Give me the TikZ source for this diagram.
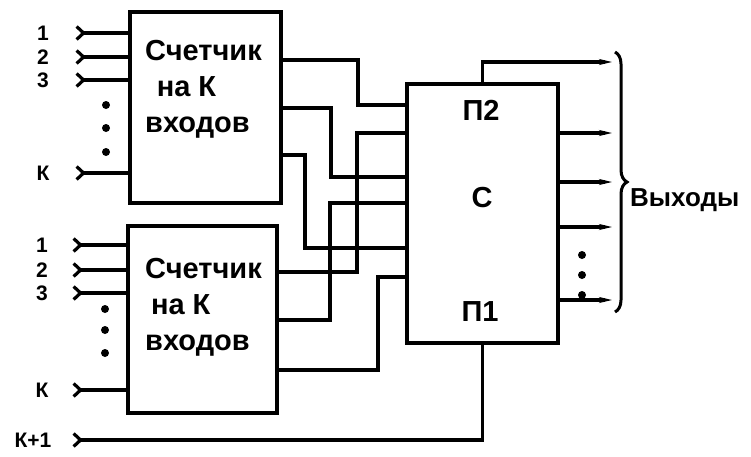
\documentclass[tikz,border=0pt]{standalone}
\usepackage{fontspec}
\setmainfont{Liberation Sans}
\usetikzlibrary{arrows.meta,decorations.pathreplacing}

\tikzset{
  wire/.style={line width=3.2pt},
  blk/.style={draw, line width=3.2pt, rectangle, inner sep=0pt},
  txt/.style={font=\bfseries\fontsize{29}{36}\selectfont, align=left, inner sep=0pt},
  num/.style={font=\bfseries\fontsize{21}{21}\selectfont, inner sep=0pt},
  inp/.style={wire, {Straight Barb[reversed,length=7pt,width=13pt]}-},
  outp/.style={wire, -{Stealth[length=13pt,width=6pt]}},
  dot/.style={circle, fill, inner sep=0pt, minimum size=8pt},
}

\begin{document}
\begin{tikzpicture}[x=1pt,y=-1pt]
\useasboundingbox (0,0) rectangle (751,456);

% Counters
\node[blk, minimum width=151pt, minimum height=191pt] (cnt1) at (205.5,107.5) {};
\node[txt, anchor=west] (t1) at (145,89) {Счетчик\\\hspace*{0.4em}на К\\входов};
\node[blk, minimum width=149pt, minimum height=187pt] (cnt2) at (202.5,319.5) {};
\node[txt, anchor=west] (t2) at (145,307) {Счетчик\\\hspace*{0.2em}на К\\входов};

% Adder
\node[blk, minimum width=151pt, minimum height=259pt] (sum) at (482.5,213.5) {};
\node[txt] (p2) at (481,110) {П2};
\node[txt] (c) at (482,198) {С};
\node[txt] (p1) at (480,312) {П1};

% Inputs of the counters
\foreach \y/\s [count=\i] in {33/1,57/2,80/3,173/К} {
  \node[num] (la\i) at (43,\y) {\s};
  \coordinate (ia\i) at (75,\y);
  \draw[inp] (ia\i) -- (cnt1.west |- ia\i);
}
\foreach \y/\s [count=\i] in {245/1,270/2,293/3,390/К} {
  \node[num] (lb\i) at (42,\y) {\s};
  \coordinate (ib\i) at (72,\y);
  \draw[inp] (ib\i) -- (cnt2.west |- ib\i);
}
\foreach \y [count=\i] in {105,128,152} \node[dot] (da\i) at (106,\y) {};
\foreach \y [count=\i] in {309,330,353} \node[dot] (db\i) at (105,\y) {};

% Carry input
\node[num] (lk) at (33,440) {К+1};
\coordinate (ik) at (72,440);
\draw[inp] (ik) -| (sum.south);

% Counters to adder
\foreach \a/\b/\c in {60/358/105,108/331/177,155/305/248}
  \draw[wire] (cnt1.east |- 0,\a) -| (\b,\c) -- (sum.west |- 0,\c);
\foreach \a/\b/\c in {272/357/133,320/330/203,370/378/277}
  \draw[wire] (cnt2.east |- 0,\a) -| (\b,\c) -- (sum.west |- 0,\c);

% Outputs
\coordinate (q0) at (612,62);
\draw[outp] (sum.north) |- (q0);
\foreach \y [count=\i] in {133,182,227,300} {
  \coordinate (q\i) at (612,\y);
  \draw[outp] (sum.east |- q\i) -- (q\i);
}
\foreach \y [count=\i] in {255,275,295} \node[dot] (dq\i) at (582,\y) {};

\coordinate (br1) at (615,52);
\coordinate (br2) at (615,312);
\draw[line width=3pt, decorate, decoration={brace, amplitude=12pt}] (br1) -- (br2);
\node[txt, font=\bfseries\fontsize{26}{30}\selectfont, anchor=west] (out) at (630,200) {Выходы};
\end{tikzpicture}
\end{document}
